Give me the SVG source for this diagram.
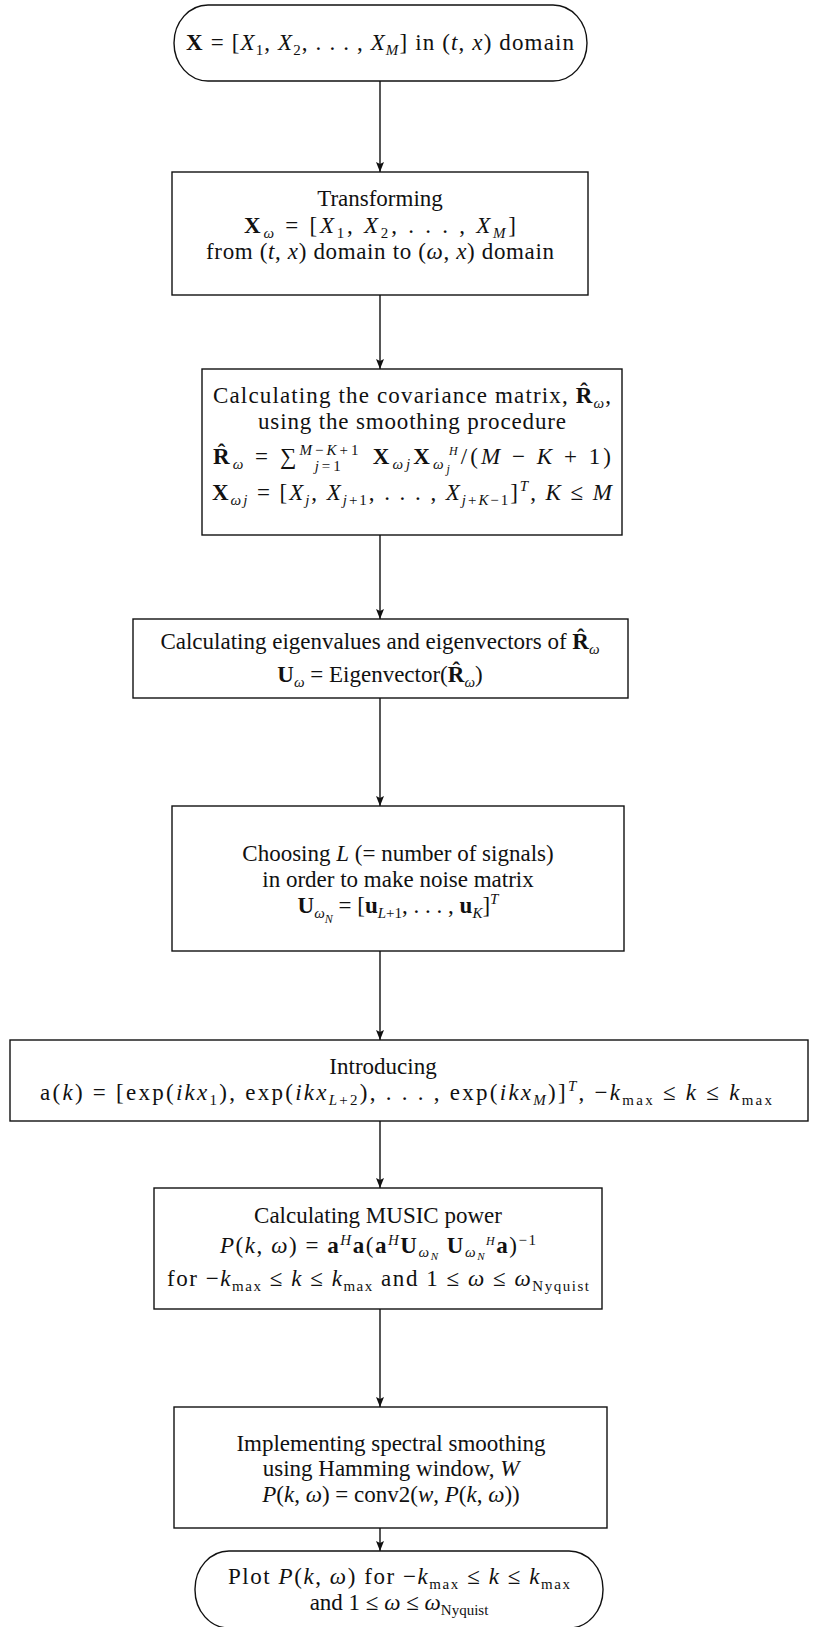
<svg xmlns="http://www.w3.org/2000/svg" width="816" height="1627" viewBox="0 0 816 1627">
<style>
.bg{fill:#ffffff}
.box{fill:#ffffff;stroke:#111111;stroke-width:1.4}
.con{stroke:#111111;stroke-width:1.4;fill:none}
.t{font-family:"Liberation Serif","Times New Roman",serif;font-size:23px;fill:#111111;text-anchor:middle}
.i{font-style:italic}
.b{font-weight:bold}
.s{font-size:15px}
.ss{font-size:12px}
.sn{font-size:11px}
</style>
<defs>
<marker id="ah" markerUnits="userSpaceOnUse" markerWidth="8" markerHeight="10" refX="4" refY="10" orient="0" viewBox="0 0 8 10">
<path d="M0,0 L4,10 L8,0 L4,2 z" fill="#111111"/>
</marker>
</defs>
<rect class="bg" x="0" y="0" width="816" height="1627"/>

<g id="connectors">
<line class="con" x1="380" y1="81" x2="380" y2="172" marker-end="url(#ah)"/>
<line class="con" x1="380" y1="295" x2="380" y2="369" marker-end="url(#ah)"/>
<line class="con" x1="380" y1="535" x2="380" y2="619" marker-end="url(#ah)"/>
<line class="con" x1="380" y1="698" x2="380" y2="806" marker-end="url(#ah)"/>
<line class="con" x1="380" y1="951" x2="380" y2="1040" marker-end="url(#ah)"/>
<line class="con" x1="380" y1="1121" x2="380" y2="1188" marker-end="url(#ah)"/>
<line class="con" x1="380" y1="1309" x2="380" y2="1407" marker-end="url(#ah)"/>
<line class="con" x1="380" y1="1528" x2="380" y2="1551" marker-end="url(#ah)"/>
</g>

<g id="start">
<rect class="box" x="174" y="5" width="413" height="76" rx="34" ry="38"/>
<text class="t" x="380" y="50" textLength="388" lengthAdjust="spacing"><tspan class="b">X</tspan> = [<tspan class="i">X</tspan><tspan class="s" baseline-shift="-5">1</tspan>, <tspan class="i">X</tspan><tspan class="s" baseline-shift="-5">2</tspan>, . . . , <tspan class="i">X</tspan><tspan class="s i" baseline-shift="-5">M</tspan>] in (<tspan class="i">t</tspan>, <tspan class="i">x</tspan>) domain</text>
</g>

<g id="transform">
<rect class="box" x="172" y="172" width="416" height="123"/>
<text class="t" x="380" y="206">Transforming</text>
<text class="t" x="380" y="233" textLength="272" lengthAdjust="spacing"><tspan class="b">X</tspan><tspan class="s i" baseline-shift="-5">ω</tspan> = [<tspan class="i">X</tspan><tspan class="s" baseline-shift="-5">1</tspan>, <tspan class="i">X</tspan><tspan class="s" baseline-shift="-5">2</tspan>, . . . , <tspan class="i">X</tspan><tspan class="s i" baseline-shift="-5">M</tspan>]</text>
<text class="t" x="380" y="259" textLength="348" lengthAdjust="spacing">from (<tspan class="i">t</tspan>, <tspan class="i">x</tspan>) domain to (<tspan class="i">ω</tspan>, <tspan class="i">x</tspan>) domain</text>
</g>

<g id="covariance">
<rect class="box" x="202" y="369" width="420" height="166"/>
<text class="t" x="412" y="403" textLength="398" lengthAdjust="spacing">Calculating the covariance matrix, <tspan class="b">R̂</tspan><tspan class="s i" baseline-shift="-5">ω</tspan>,</text>
<text class="t" x="412" y="429" textLength="308" lengthAdjust="spacing">using the smoothing procedure</text>
<text class="t" x="412" y="464" textLength="398" lengthAdjust="spacing"><tspan class="b">R̂</tspan><tspan class="s i" baseline-shift="-5">ω</tspan> = ∑<tspan class="s i" baseline-shift="9">M</tspan><tspan class="s" baseline-shift="9">−</tspan><tspan class="s i" baseline-shift="9">K</tspan><tspan class="s" baseline-shift="9">+1</tspan><tspan class="s i" dx="-47" baseline-shift="-7">j</tspan><tspan class="s" baseline-shift="-7">=1</tspan><tspan dx="20"> </tspan><tspan class="b">X</tspan><tspan class="s i" baseline-shift="-5">ωj</tspan><tspan class="b">X</tspan><tspan class="s i" baseline-shift="-5">ω</tspan><tspan class="ss i" baseline-shift="-9">j</tspan><tspan class="ss i" dx="-4" baseline-shift="9">H</tspan>/(<tspan class="i">M</tspan> − <tspan class="i">K</tspan> + 1)</text>
<text class="t" x="412" y="500" textLength="400" lengthAdjust="spacing"><tspan class="b">X</tspan><tspan class="s i" baseline-shift="-5">ωj</tspan> = [<tspan class="i">X</tspan><tspan class="s i" baseline-shift="-5">j</tspan>, <tspan class="i">X</tspan><tspan class="s" baseline-shift="-5"><tspan class="i">j</tspan>+1</tspan>, . . . , <tspan class="i">X</tspan><tspan class="s" baseline-shift="-5"><tspan class="i">j</tspan>+<tspan class="i">K</tspan>−1</tspan>]<tspan class="s i" baseline-shift="9">T</tspan>,  <tspan class="i">K</tspan> ≤ <tspan class="i">M</tspan></text>
</g>

<g id="eigen">
<rect class="box" x="133" y="619" width="495" height="79"/>
<text class="t" x="380" y="649">Calculating eigenvalues and eigenvectors of <tspan class="b">R̂</tspan><tspan class="s i" baseline-shift="-5">ω</tspan></text>
<text class="t" x="380" y="682"><tspan class="b">U</tspan><tspan class="s i" baseline-shift="-5">ω</tspan> = Eigenvector(<tspan class="b">R̂</tspan><tspan class="s i" baseline-shift="-5">ω</tspan>)</text>
</g>

<g id="choose">
<rect class="box" x="172" y="806" width="452" height="145"/>
<text class="t" x="398" y="861">Choosing <tspan class="i">L</tspan> (= number of signals)</text>
<text class="t" x="398" y="887">in order to make noise matrix</text>
<text class="t" x="398" y="913"><tspan class="b">U</tspan><tspan class="s i" baseline-shift="-5">ω</tspan><tspan class="ss i" baseline-shift="-10">N</tspan> = [<tspan class="b">u</tspan><tspan class="s" baseline-shift="-5"><tspan class="i">L</tspan>+1</tspan>, . . . , <tspan class="b">u</tspan><tspan class="s i" baseline-shift="-5">K</tspan>]<tspan class="s i" baseline-shift="9">T</tspan></text>
</g>

<g id="introduce">
<rect class="box" x="10" y="1040" width="798" height="81"/>
<text class="t" x="383" y="1074">Introducing</text>
<text class="t" x="406" y="1100" textLength="732" lengthAdjust="spacing">a(<tspan class="i">k</tspan>) = [exp(<tspan class="i">ikx</tspan><tspan class="s" baseline-shift="-5">1</tspan>), exp(<tspan class="i">ikx</tspan><tspan class="s" baseline-shift="-5"><tspan class="i">L</tspan>+2</tspan>), . . . , exp(<tspan class="i">ikx</tspan><tspan class="s i" baseline-shift="-5">M</tspan>)]<tspan class="s i" baseline-shift="9">T</tspan>, −<tspan class="i">k</tspan><tspan class="s" baseline-shift="-5">max</tspan> ≤ <tspan class="i">k</tspan> ≤ <tspan class="i">k</tspan><tspan class="s" baseline-shift="-5">max</tspan></text>
</g>

<g id="music">
<rect class="box" x="154" y="1188" width="448" height="121"/>
<text class="t" x="378" y="1223">Calculating MUSIC power</text>
<text class="t" x="378" y="1253" textLength="316" lengthAdjust="spacing"><tspan class="i">P</tspan>(<tspan class="i">k</tspan>, <tspan class="i">ω</tspan>) = <tspan class="b">a</tspan><tspan class="s i" baseline-shift="8">H</tspan><tspan class="b">a</tspan>(<tspan class="b">a</tspan><tspan class="s i" baseline-shift="8">H</tspan><tspan class="b">U</tspan><tspan class="s i" baseline-shift="-4">ω</tspan><tspan class="sn i" baseline-shift="-7">N</tspan> <tspan class="b">U</tspan><tspan class="s i" baseline-shift="-4">ω</tspan><tspan class="sn i" baseline-shift="-7">N</tspan><tspan class="ss i" baseline-shift="8">H</tspan><tspan class="b">a</tspan>)<tspan class="s" baseline-shift="8">−1</tspan></text>
<text class="t" x="378" y="1286" textLength="422" lengthAdjust="spacing">for −<tspan class="i">k</tspan><tspan class="s" baseline-shift="-5">max</tspan> ≤ <tspan class="i">k</tspan> ≤ <tspan class="i">k</tspan><tspan class="s" baseline-shift="-5">max</tspan> and 1 ≤ <tspan class="i">ω</tspan> ≤ <tspan class="i">ω</tspan><tspan class="s" baseline-shift="-5">Nyquist</tspan></text>
</g>

<g id="smoothing">
<rect class="box" x="174" y="1407" width="433" height="121"/>
<text class="t" x="391" y="1451">Implementing spectral smoothing</text>
<text class="t" x="391" y="1476">using Hamming window, <tspan class="i">W</tspan></text>
<text class="t" x="391" y="1502"><tspan class="i">P</tspan>(<tspan class="i">k</tspan>, <tspan class="i">ω</tspan>) = conv2(<tspan class="i">w</tspan>, <tspan class="i">P</tspan>(<tspan class="i">k</tspan>, <tspan class="i">ω</tspan>))</text>
</g>

<g id="plot">
<rect class="box" x="195" y="1551" width="408" height="77" rx="34" ry="38"/>
<text class="t" x="399" y="1584" textLength="342" lengthAdjust="spacing">Plot <tspan class="i">P</tspan>(<tspan class="i">k</tspan>, <tspan class="i">ω</tspan>) for −<tspan class="i">k</tspan><tspan class="s" baseline-shift="-5">max</tspan> ≤ <tspan class="i">k</tspan> ≤ <tspan class="i">k</tspan><tspan class="s" baseline-shift="-5">max</tspan></text>
<text class="t" x="399" y="1610">and 1 ≤ <tspan class="i">ω</tspan> ≤ <tspan class="i">ω</tspan><tspan class="s" baseline-shift="-5">Nyquist</tspan></text>
</g>
</svg>
